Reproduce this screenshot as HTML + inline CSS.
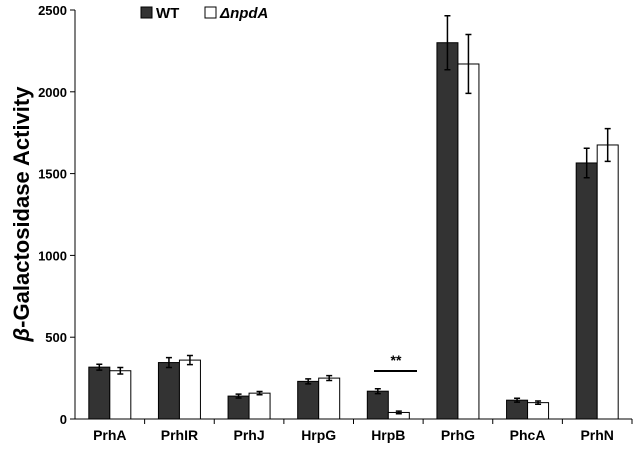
<!DOCTYPE html>
<html><head><meta charset="utf-8"><style>
body{margin:0;background:#fff;}
svg{display:block;font-family:"Liberation Sans",Arial,sans-serif;}
</style></head><body>
<svg id="chart" width="633" height="456">
<g id="axes"></g><g id="bars"></g>
<text transform="translate(29,214) rotate(-90)" text-anchor="middle" font-size="22" font-weight="bold"><tspan font-style="italic">β</tspan>-Galactosidase Activity</text>
<g>
<rect x="141" y="7" width="11" height="11" fill="#333" stroke="#000"/>
<text x="156" y="18" font-size="15" font-weight="bold">WT</text>
<rect x="205" y="7" width="11" height="11" fill="#fff" stroke="#000"/>
<text x="220" y="18" font-size="15" font-weight="bold" font-style="italic">ΔnpdA</text>
</g>
<g>
<line x1="374" y1="371" x2="417" y2="371" stroke="#000" stroke-width="2"/>
<text x="396" y="365" text-anchor="middle" font-size="14" font-weight="bold">**</text>
</g>
</svg>
<script>
const categories=["PrhA","PrhIR","PrhJ","HrpG","HrpB","PrhG","PhcA","PrhN"];
const wtValues=[317,345,140,230,170,2300,115,1565];
const wtErrors=[18,30,12,15,15,165,12,90];
const mutValues=[295,360,158,250,40,2170,100,1675];
const mutErrors=[20,28,10,15,8,180,10,100];
const yTicks=[0,500,1000,1500,2000,2500];
const NS="http://www.w3.org/2000/svg";
const x0=75,x1=632,y0=419,yTop=10,yMax=2500;
const band=(x1-x0)/categories.length;
const y=v=>y0-(v/yMax)*(y0-yTop);
const xc=i=>x0+band*(i+0.5);
function mk(t,a,p){const e=document.createElementNS(NS,t);for(const k in a)e.setAttribute(k,a[k]);p.appendChild(e);return e;}
const ax=document.getElementById('axes'),bg=document.getElementById('bars');
const yl=mk('line',{x1:x0,y1:yTop,x2:x0,y2:y0,stroke:'#000','stroke-width':1},ax);


const xl=mk('line',{x1:x0,y1:y0,x2:x1,y2:y0,stroke:'#000','stroke-width':1},ax);


yTicks.forEach(v=>{
 mk('line',{x1:x0-5,y1:y(v),x2:x0,y2:y(v),stroke:'#000'},ax);
 const t=mk('text',{x:x0-8,y:y(v)+5,'text-anchor':'end','font-size':13,'font-weight':'bold'},ax);
 t.textContent=v;
 
 
});
categories.forEach((c,i)=>{
 mk('line',{x1:x0+band*(i+1),y1:y0,x2:x0+band*(i+1),y2:y0+5,stroke:'#000'},ax);
 const t=mk('text',{x:xc(i),y:y0+21,'text-anchor':'middle','font-size':14,'font-weight':'bold'},ax);
 t.textContent=c;
 
 
 const bw=21;
 [[wtValues,wtErrors,'#333',-bw,'bar-wt'],[mutValues,mutErrors,'#fff',0,'bar-npda']].forEach(([vals,errs,fill,off,name])=>{
  const v=vals[i],e=errs[i],bx=xc(i)+off;
  const r=mk('rect',{x:bx,y:y(v),width:bw,height:y0-y(v),fill:fill,stroke:'#000','stroke-width':1},bg);
  
  
  const cx=bx+bw/2;
  const eb=mk('path',{d:`M${cx},${y(v+e)}V${y(v-e)}M${cx-3},${y(v+e)}H${cx+3}M${cx-3},${y(v-e)}H${cx+3}`,stroke:'#000','stroke-width':1.5,fill:'none'},bg);
  
  
 });
});
</script>
</body></html>
